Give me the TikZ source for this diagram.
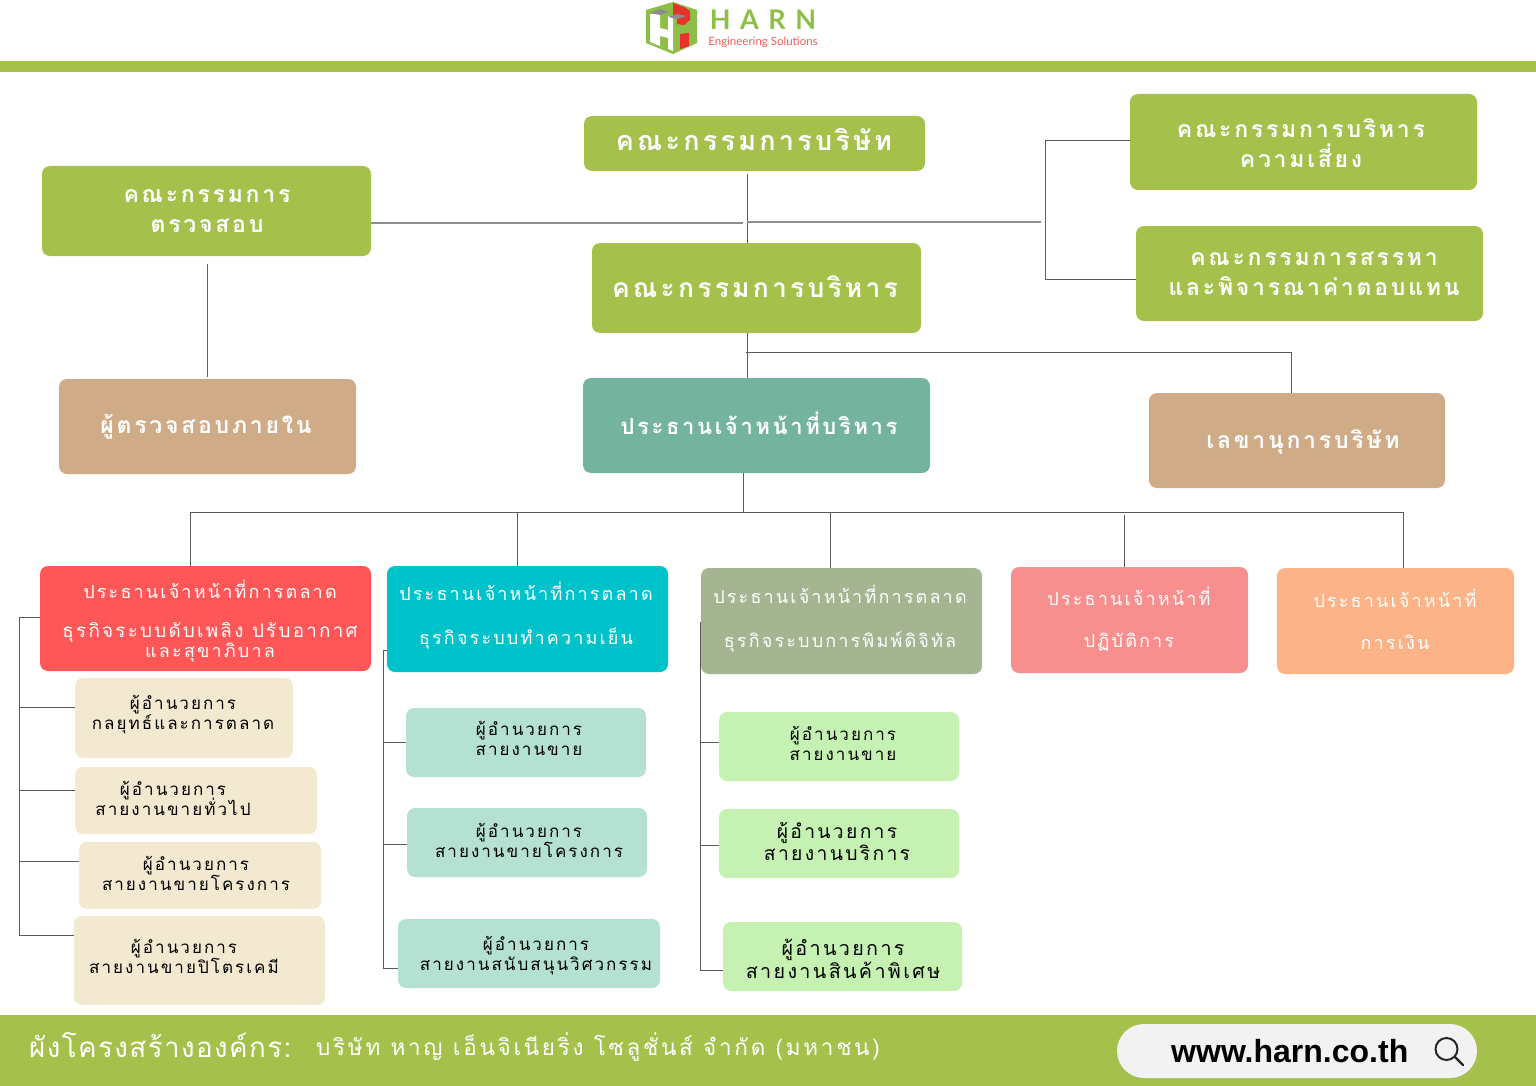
\documentclass[tikz,border=0pt]{standalone}
\usepackage{fontspec}
\usepackage{tikz}
\usepackage{xcolor}
\newfontfamily\thaifont[Script=Thai,LetterSpace=12]{Loma}
\newfontfamily\thaitight[Script=Thai,LetterSpace=5]{Loma}
\newfontfamily\logofont[LetterSpace=35]{Lato}
\newfontfamily\smalllogo{Lato}
\newfontfamily\webfont{Liberation Sans}
\definecolor{harngreen}{HTML}{A5C14B}
\definecolor{harnlogo}{HTML}{8DBE45}
\definecolor{harnlogored}{HTML}{E8332C}
\definecolor{harntan}{HTML}{CFAB88}
\definecolor{harnteal}{HTML}{74B49F}
\definecolor{harnred}{HTML}{FF5757}
\definecolor{harncyan}{HTML}{00C2CB}
\definecolor{harnsage}{HTML}{A5B592}
\definecolor{harnpink}{HTML}{F88F8F}
\definecolor{harnpeach}{HTML}{FCB387}
\definecolor{harncream}{HTML}{F3E9D0}
\definecolor{harnmint}{HTML}{B5E1D3}
\definecolor{harnlime}{HTML}{C5F2B2}
\definecolor{harnline}{HTML}{5A5A5A}
\definecolor{harnbus}{HTML}{8E8E8E}
\tikzset{
  orgbox/.style={rounded corners=8pt,inner sep=0pt,outer sep=0pt},
  toptext/.style={text=white,align=center,inner sep=0pt,font=\thaifont\bfseries\fontsize{23}{30}\selectfont\setlength{\lineskiplimit}{-100pt}},
  chieftext/.style={text=white,align=center,inner sep=0pt,font=\thaifont\fontsize{18}{20}\selectfont\setlength{\lineskiplimit}{-100pt}},
  mgrtext/.style={text=black,align=center,inner sep=0pt,font=\thaifont\fontsize{17}{20}\selectfont\setlength{\lineskiplimit}{-100pt}},
  orgline/.style={draw=harnline,line width=.9pt},
  orgbus/.style={draw=harnbus,line width=1.1pt}
}
\begin{document}
\begin{tikzpicture}[x=1pt,y=-1pt]
\useasboundingbox (0,0) rectangle (1536,1086);
% bars
\fill[harngreen] (0,61) rectangle (1536,72);
\fill[harngreen] (0,1015) rectangle (1536,1086);
% logo
\fill[harnlogo] (646,10)--(673,2)--(697,10)--(697,43)--(673,54)--(646,43)--cycle;
\fill[white] (650,14)--(660,13)--(660,28)--(668,30)--(668,16)--(673,17)--(673,51)--(668,49)--(668,38)--(660,36)--(660,46)--(650,42)--cycle;
\fill[harnlogored] (673,3)--(684,7)--(690,11)--(690,20)--(684,25)--(677,24)--(677,18)--(673,17)--cycle;
\fill[harnlogored] (680,34)--(689,33)--(689,46)--(680,49)--cycle;
\fill[black!45] (650,13)--(660,9)--(669,12)--(660,15)--cycle;
\fill[black!45] (668,17)--(677,14)--(686,16)--(677,19)--cycle;
\node[text=harnlogo,inner sep=0pt,font=\logofont\bfseries\fontsize{27}{27}\selectfont] (logoName) at (763,20) {HARN};
\node[text=harnlogored!80,inner sep=0pt,font=\smalllogo\fontsize{11.5}{12}\selectfont] (logoSub) at (763,42) {Engineering Solutions};
% committees
\foreach \name/\cx/\cy/\w/\h/\col/\tx/\ty/\txt in {
  board/754.5/143.5/341/55/harngreen/754/139/{\fontsize{27}{30}\selectfont คณะกรรมการบริษัท},
  risk/1303.5/142/347/96/harngreen/1301/143/{คณะกรรมการบริหาร\\ความเสี่ยง},
  nomin/1309.5/273.5/347/95/harngreen/1314/274/{คณะกรรมการสรรหา\\และพิจารณาค่าตอบแทน},
  audit/206.5/211/329/90/harngreen/207/211/{คณะกรรมการ\\ตรวจสอบ},
  exec/756.5/288/329/90/harngreen/755/287/{\fontsize{26.5}{30}\selectfont คณะกรรมการบริหาร},
  internal/207.5/426.5/297/95/harntan/206/427/{ผู้ตรวจสอบภายใน},
  ceo/756.5/425.5/347/95/harnteal/759/423/{\fontsize{22}{30}\selectfont ประธานเจ้าหน้าที่บริหาร},
  secretary/1297/440.5/296/95/harntan/1303/442/{เลขานุการบริษัท}}
{
  \node[orgbox,fill=\col,minimum width=\w,minimum height=\h] (\name) at (\cx,\cy) {};
  \node[toptext] (\name txt) at (\tx,\ty) {\txt};
}
% chiefs
\foreach \name/\cx/\cy/\w/\h/\col/\tx/\ty/\txt in {
  cmoFire/205.5/618.5/331/105/harnred/210/621/{ประธานเจ้าหน้าที่การตลาด\\[19pt]\fontsize{18.8}{20}\selectfont ธุรกิจระบบดับเพลิง ปรับอากาศ\\และสุขาภิบาล},
  cmoCool/527.5/619/281/106/harncyan/526/616/{ประธานเจ้าหน้าที่การตลาด\\[24pt]ธุรกิจระบบทำความเย็น},
  cmoPrint/841.5/621/281/106/harnsage/840/619/{ประธานเจ้าหน้าที่การตลาด\\[24pt]ธุรกิจระบบการพิมพ์ดิจิทัล},
  coo/1129.5/620/237/106/harnpink/1129/619/{ประธานเจ้าหน้าที่\\[22pt]ปฏิบัติการ},
  cfo/1395.5/621/237/106/harnpeach/1395/619/{ประธานเจ้าหน้าที่\\[22pt]การเงิน}}
{
  \node[orgbox,fill=\col,minimum width=\w,minimum height=\h] (\name) at (\cx,\cy) {};
  \node[chieftext] (\name txt) at (\tx,\ty) {\txt};
}
% managers
\foreach \name/\cx/\cy/\w/\h/\col/\tx/\ty/\txt in {
  mgrA/184/718/218/80/harncream/183/715/{ผู้อำนวยการ\\กลยุทธ์และการตลาด},
  mgrB/196/800.5/242/67/harncream/173/798/{ผู้อำนวยการ\\สายงานขายทั่วไป},
  mgrC/200/875.5/242/67/harncream/196/873/{ผู้อำนวยการ\\สายงานขายโครงการ},
  mgrD/199.5/960.5/251/89/harncream/184/956/{ผู้อำนวยการ\\สายงานขายปิโตรเคมี},
  mgrE/526/742.5/240/69/harnmint/529/738/{ผู้อำนวยการ\\สายงานขาย},
  mgrF/527/842.5/240/69/harnmint/529/840/{ผู้อำนวยการ\\สายงานขายโครงการ},
  mgrG/529/953.5/262/69/harnmint/536/956/{ผู้อำนวยการ\\สายงานสนับสนุนวิศวกรรม},
  mgrH/839/746.5/240/69/harnlime/843/743/{ผู้อำนวยการ\\สายงานขาย},
  mgrI/839/843.5/240/69/harnlime/837/841/{\fontsize{19.3}{23}\selectfont ผู้อำนวยการ\\[2pt]\fontsize{19.3}{23}\selectfont สายงานบริการ},
  mgrJ/842.5/956.5/239/69/harnlime/843/959/{\fontsize{19.7}{24}\selectfont ผู้อำนวยการ\\[3pt]\fontsize{19.7}{24}\selectfont สายงานสินค้าพิเศษ}}
{
  \node[orgbox,fill=\col,minimum width=\w,minimum height=\h] (\name) at (\cx,\cy) {};
  \node[mgrtext] (\name txt) at (\tx,\ty) {\txt};
}
% junctions
\coordinate (boardTop) at (747,174);
\coordinate (boardBus) at (743,223);
\coordinate (riskStart) at (747,222);
\coordinate (riskBus) at (1041,222);
\coordinate (riskSpine) at (1045,140);
\coordinate (nominSpine) at (1045,279);
\coordinate (auditDown) at (207,264);
\coordinate (auditEnd) at (207,377);
\coordinate (execDown) at (747,333);
\coordinate (secBus) at (746,352);
\coordinate (secCorner) at (1291,352);
\coordinate (ceoDown) at (743,473);
\coordinate (ceoBus) at (743,512);
\coordinate (busLeft) at (190,512);
\coordinate (busRight) at (1403,512);
\coordinate (spineA) at (19,617);
\coordinate (spineAend) at (19,935);
\coordinate (spineB) at (383,650);
\coordinate (spineBend) at (383,968);
\coordinate (spineC) at (700,622);
\coordinate (spineCend) at (700,970);
% top lines
\draw[orgline] (boardTop)--(boardTop |- exec.north);
\draw[orgbus] (audit.east |- boardBus)--(boardBus);
\draw[orgbus] (riskStart)--(riskBus);
\draw[orgline] (risk.west |- riskSpine)--(riskSpine)--(nominSpine)--(nomin.west |- nominSpine);
\draw[orgline,draw=harnteal!60!black] (auditDown)--(auditEnd);
\draw[orgline] (execDown)--(execDown |- ceo.north);
\draw[orgline] (secBus)--(secCorner)--(secCorner |- secretary.north);
% ceo lines
\draw[orgline] (ceoDown)--(ceoBus);
\draw[orgline] (busLeft)--(busRight);
\foreach \x/\target in {190/cmoFire,517/cmoCool,830/cmoPrint,1403/cfo}
  \draw[orgline] (\x,512)--(\x,512 |- \target.north);
\draw[orgline] (1124,515)--(1124,515 |- coo.north);
% side brackets
\draw[orgline] (cmoFire.west |- spineA)--(spineA)--(spineAend)--(mgrD.west |- spineAend);
\foreach \y/\target in {707/mgrA,790/mgrB,861/mgrC}
  \draw[orgline] (19,\y)--(\target.west |- 19,\y);
\draw[orgline] (cmoCool.west |- spineB)--(spineB)--(spineBend)--(mgrG.west |- spineBend);
\foreach \y/\target in {742/mgrE,844/mgrF}
  \draw[orgline] (383,\y)--(\target.west |- 383,\y);
\draw[orgline] (cmoPrint.west |- spineC)--(spineC)--(spineCend)--(mgrJ.west |- spineCend);
\foreach \y/\target in {742/mgrH,845/mgrI}
  \draw[orgline] (700,\y)--(\target.west |- 700,\y);
% footer
\node[anchor=west,text=white,inner sep=0pt,font=\thaitight\fontsize{27.8}{30}\selectfont] (footTitle) at (29,1045) {ผังโครงสร้างองค์กร:};
\node[anchor=west,text=white,inner sep=0pt,font=\thaifont\fontsize{22.5}{30}\selectfont] (footCompany) at (316,1047) {บริษัท หาญ เอ็นจิเนียริ่ง โซลูชั่นส์ จำกัด (มหาชน)};
\node[fill=black!5!white,rounded corners=27pt,minimum width=360,minimum height=54,inner sep=0pt] (webPill) at (1297,1051) {};
\node[anchor=west,inner sep=0pt,font=\webfont\bfseries\fontsize{32}{34}\selectfont] (webText) at (1171,1051) {www.harn.co.th};
\draw[black!85,line width=2pt] (1446.5,1049) circle (11);
\draw[black!85,line width=2.4pt,line cap=round] (1455,1057)--(1463,1065);
\end{tikzpicture}
\end{document}
